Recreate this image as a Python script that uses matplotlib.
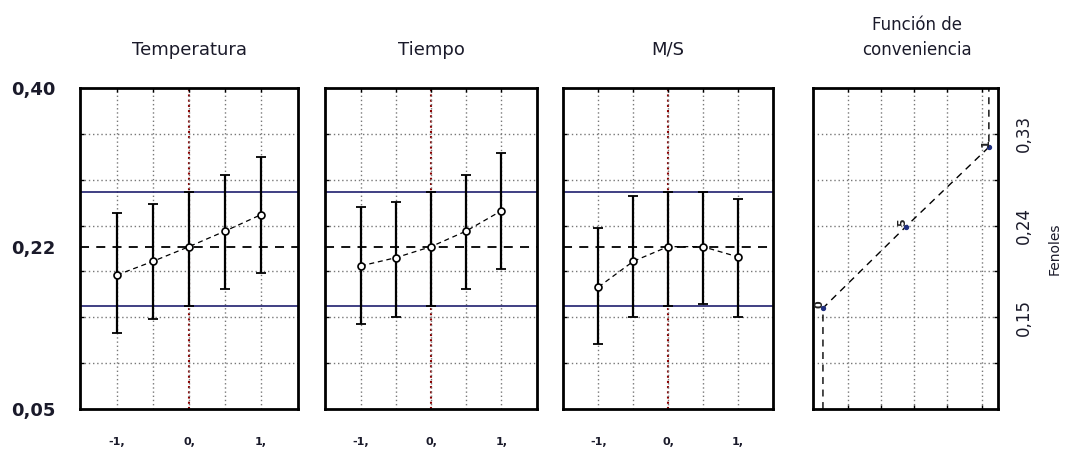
import numpy as np
import matplotlib
matplotlib.use('Agg')
import matplotlib.pyplot as plt

# factor levels (coded)
x_levels = [-1, -0.5, 0, 0.5, 1]
x_tick_vals = [-1, 0, 1]
x_tick_labels = ['-1,', '0,', '1,']

# predicted Fenoles and confidence limits per factor
temp_mean = [0.196, 0.211, 0.227, 0.244, 0.262]
temp_low = [0.133, 0.148, 0.162, 0.181, 0.198]
temp_high = [0.264, 0.274, 0.287, 0.305, 0.325]

time_mean = [0.206, 0.215, 0.227, 0.244, 0.266]
time_low = [0.143, 0.150, 0.162, 0.181, 0.203]
time_high = [0.270, 0.276, 0.287, 0.305, 0.329]

ms_mean = [0.183, 0.211, 0.227, 0.227, 0.216]
ms_low = [0.121, 0.150, 0.162, 0.165, 0.150]
ms_high = [0.247, 0.282, 0.287, 0.287, 0.279]

current_value = 0.2266
current_low = 0.1623
current_high = 0.2866

y_min, y_max = 0.05, 0.40
y_tick_vals = [0.05, current_value, 0.40]
y_tick_labels = ['0,05', '0,22', '0,40']

# desirability function panel
desir_vals = [0, 0.5, 1]
desir_labels = ['0', '5', '1']
fenol_vals = [0.159, 0.239, 0.317]
desir_ymin, desir_ymax = 0.06, 0.375
desir_tick_vals = [0.15, 0.24, 0.33]
desir_tick_labels = ['0,15', '0,24', '0,33']

titles = ['Temperatura', 'Tiempo', 'M/S']
panels = [(temp_mean, temp_low, temp_high),
          (time_mean, time_low, time_high),
          (ms_mean, ms_low, ms_high)]

fig = plt.figure(figsize=(10.68, 4.5), dpi=100)
lefts = [80, 325, 563]
widths = [218, 212, 210]
bottom = (450 - 409) / 450
height = 321 / 450

grid_kw = dict(color='#777777', linestyle=(0, (1, 2)), linewidth=1.0)
text_color = '#1a1a2a'

for i, (title, (mean, low, high)) in enumerate(zip(titles, panels)):
    ax = fig.add_axes([lefts[i] / 1068, bottom, widths[i] / 1068, height])
    ax.xaxis.remove_overlapping_locs = False
    ax.yaxis.remove_overlapping_locs = False
    ax.set_xlim(-1.51, 1.51)
    ax.set_ylim(y_min, y_max)

    grid_y = np.linspace(y_min, y_max, 8)[1:-1]
    ax.set_yticks(grid_y, minor=True)
    ax.set_xticks(x_levels, minor=True)
    ax.grid(True, which='minor', **grid_kw)
    ax.tick_params(which='minor', direction='in', length=3, width=1,
                   left=True, top=True, bottom=False, right=False)

    ax.set_xticks(x_tick_vals)
    ax.set_xticklabels(x_tick_labels, fontsize=8, fontweight='bold', color=text_color)
    ax.tick_params(axis='x', which='major', length=0, pad=20)
    if i == 0:
        ax.set_yticks(y_tick_vals)
        ax.set_yticklabels(y_tick_labels, fontsize=13, fontweight='bold', color=text_color)
        ax.tick_params(axis='y', which='major', length=0, pad=18)
    else:
        ax.set_yticks([])

    ax.axvline(0, color='#8b0000', linestyle=(0, (1, 1.5)), linewidth=1.5, zorder=1)
    ax.axhline(current_high, color='#1f1f6e', linewidth=1.2, zorder=2)
    ax.axhline(current_low, color='#1f1f6e', linewidth=1.2, zorder=2)
    ax.axhline(current_value, color='black', linestyle=(0, (5, 4)), linewidth=1.3, zorder=2)

    mean = np.array(mean)
    yerr = [mean - np.array(low), np.array(high) - mean]
    ax.errorbar(x_levels, mean, yerr=yerr, fmt='none', ecolor='black',
                elinewidth=1.6, capsize=3.5, capthick=1.3, zorder=3)
    ax.plot(x_levels, mean, color='black', linestyle=(0, (4, 3)), linewidth=0.9,
            marker='o', markersize=5, markerfacecolor='white',
            markeredgecolor='black', markeredgewidth=1.2, zorder=4)

    for sp in ax.spines.values():
        sp.set_linewidth(2)
    ax.set_title(title, fontsize=13, color=text_color, pad=24)

# desirability panel
ax = fig.add_axes([813 / 1068, bottom, 185 / 1068, height])
ax.xaxis.remove_overlapping_locs = False
ax.yaxis.remove_overlapping_locs = False
ax.set_xlim(-0.06, 1.055)
ax.set_ylim(desir_ymin, desir_ymax)
grid_y = np.linspace(desir_ymin, desir_ymax, 8)[1:-1]
ax.set_yticks(grid_y, minor=True)
ax.set_xticks([0.15, 0.35, 0.55, 0.75, 0.96], minor=True)
ax.grid(True, which='minor', **grid_kw)
ax.tick_params(which='minor', direction='in', length=3, width=1,
               left=True, right=True, top=True, bottom=True)
ax.set_xticks([])
ax.set_yticks(desir_tick_vals)
ax.set_yticklabels(desir_tick_labels, fontsize=12, color=text_color, rotation=90, va='center')
ax.yaxis.tick_right()
ax.tick_params(axis='y', which='major', length=0, pad=12)
ax.yaxis.set_label_position('right')
ax.set_ylabel('Fenoles', fontsize=10, color=text_color, labelpad=11)

line_x = [desir_vals[0]] + desir_vals + [desir_vals[-1]]
line_y = [desir_ymin] + fenol_vals + [desir_ymax]
ax.plot(line_x, line_y, color='black', linestyle=(0, (5, 4)), linewidth=1.0, zorder=3)
ax.scatter(desir_vals, fenol_vals, s=8, color='#203080', zorder=4)
for dv, fv, lab in zip(desir_vals, fenol_vals, desir_labels):
    ax.text(dv - 0.02, fv + 0.004, lab, fontsize=8, fontweight='bold', rotation=90,
            ha='center', va='center', color='#222222', zorder=5)
for sp in ax.spines.values():
    sp.set_linewidth(2)
ax.set_title('Función de\nconveniencia', fontsize=12, color=text_color, pad=24,
             linespacing=1.5, x=0.56)

fig.savefig('out.png', dpi=100)
